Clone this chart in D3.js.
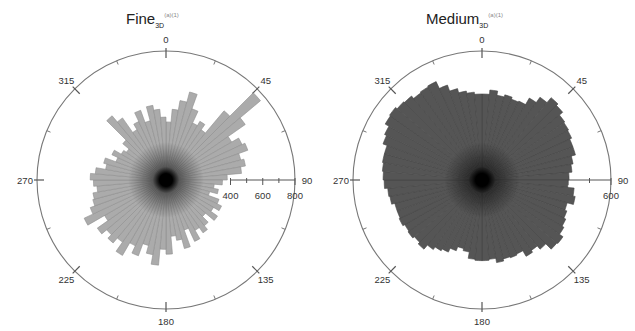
<!DOCTYPE html>
<html>
<head>
<meta charset="utf-8">
<script src="https://cdn.jsdelivr.net/npm/d3@7"></script>
<style>
  body { margin: 0; background: #fff; }
  svg text { font-family: "Liberation Sans", Arial, sans-serif; fill: #333; }
</style>
</head>
<body>
<svg id="chart" width="635" height="331"></svg>
<script>
// bin start angles (degrees), 5 degree bins
const binAngles = d3.range(0, 360, 5);

// Fine, counts per bin
const fineValues = [
  360, 440, 500, 565, 470, 390, 420, 380, 560, 765, 600, 470,
  520, 540, 480, 500, 470, 380, 350, 300, 330, 280, 350, 380,
  340, 390, 320, 370, 400, 360, 420, 330, 440, 380, 350, 460,
  430, 530, 470, 420, 500, 450, 540, 470, 510, 480, 520, 440,
  560, 500, 470, 460, 430, 450, 470, 440, 380, 400, 330, 370,
  320, 300, 350, 520, 470, 360, 400, 460, 380, 470, 440, 390
];

// Medium, counts per bin
const mediumValues = [
  400, 420, 400, 410, 400, 405, 440, 470, 500, 490, 470, 465,
  460, 450, 450, 430, 420, 405, 400, 430, 440, 410, 420, 430,
  440, 460, 455, 420, 400, 410, 380, 385, 380, 390, 370, 375,
  375, 370, 340, 330, 350, 370, 380, 395, 420, 410, 420, 415,
  425, 420, 420, 435, 440, 455, 460, 465, 470, 470, 490, 500,
  520, 525, 515, 510, 495, 500, 505, 470, 440, 420, 410, 400
];

const compassTicks = [0, 45, 90, 135, 180, 225, 270, 315];
const fineRadialTicks = [400, 600, 800];
const mediumRadialTicks = [600];

const svg = d3.select('#chart');
const rad = d => d * Math.PI / 180;

// dark core where the wedges meet
const defs = svg.append('defs');
const grad = defs.append('radialGradient').attr('id', 'core');
grad.append('stop').attr('offset', '0%').attr('stop-color', '#000').attr('stop-opacity', 1);
grad.append('stop').attr('offset', '17%').attr('stop-color', '#000').attr('stop-opacity', 1);
grad.append('stop').attr('offset', '35%').attr('stop-color', '#000').attr('stop-opacity', 0.45);
grad.append('stop').attr('offset', '100%').attr('stop-color', '#000').attr('stop-opacity', 0);

function rose(opts) {
  const g = svg.append('g').attr('transform', `translate(${opts.cx},${opts.cy})`);
  const R = 129;
  const r = d3.scaleLinear().domain([0, opts.max]).range([0, R]);
  const pt = (a, rr) => [Math.sin(rad(a)) * rr, -Math.cos(rad(a)) * rr];

  // outer circle
  g.append('circle').attr('r', R).attr('fill', 'none').attr('stroke', '#777').attr('stroke-width', 1.1);

  // minor angular ticks
  d3.range(22.5, 360, 45).forEach(a => {
    const p1 = pt(a, R), p2 = pt(a, R - 4);
    g.append('line').attr('x1', p1[0]).attr('y1', p1[1]).attr('x2', p2[0]).attr('y2', p2[1])
      .attr('stroke', '#777');
  });

  // major angular ticks + labels
  compassTicks.forEach(a => {
    if (a !== 90) {
      const p1 = pt(a, R + 3), p2 = pt(a, R - 7);
      g.append('line').attr('x1', p1[0]).attr('y1', p1[1]).attr('x2', p2[0]).attr('y2', p2[1])
        .attr('stroke', '#555').attr('stroke-width', 1.2);
    }
    const lp = pt(a, 141);
    g.append('text').attr('x', lp[0]).attr('y', lp[1])
      .attr('text-anchor', 'middle').attr('dominant-baseline', 'central')
      .attr('font-size', 9.5).text(a);
  });

  // radial axis along 90 degrees
  const r0 = r(400);
  g.append('line').attr('x1', r0).attr('y1', 0).attr('x2', R).attr('y2', 0)
    .attr('stroke', '#555').attr('stroke-width', 1);
  d3.range(400, opts.max + 1, 100).forEach(v => {
    const major = v % 200 === 0;
    g.append('line').attr('x1', r(v)).attr('x2', r(v))
      .attr('y1', -2).attr('y2', major ? 5 : 3)
      .attr('stroke', '#555');
  });
  opts.radialTicks.forEach(v => {
    g.append('text').attr('x', r(v)).attr('y', 15)
      .attr('text-anchor', 'middle').attr('dominant-baseline', 'central')
      .attr('font-size', 9.5).text(v);
  });

  // wedges
  const arc = d3.arc()
    .innerRadius(0)
    .outerRadius(d => r(d.v))
    .startAngle(d => rad(d.a))
    .endAngle(d => rad(d.a + 5));

  const bins = binAngles.map((a, i) => ({ a: a, v: opts.values[i] }));
  g.selectAll('path.bar')
    .data(bins)
    .enter().append('path')
    .attr('class', 'bar')
    .attr('d', arc)
    .attr('fill', opts.fill)
    .attr('stroke', opts.stroke)
    .attr('stroke-width', 0.6);

  g.append('circle').attr('r', 38).attr('fill', 'url(#core)');

  // title
  const t = svg.append('text').attr('x', opts.tx).attr('y', 24).attr('font-size', 15).style('fill', '#222');
  t.append('tspan').text(opts.title);
  t.append('tspan').attr('font-size', 7).attr('dy', 4).text('3D');
  t.append('tspan').attr('font-size', 6).attr('dy', -11).style('fill', '#888').text('(a)(1)');
}

rose({ cx: 166, cy: 180, max: 800, values: fineValues, radialTicks: fineRadialTicks,
  fill: '#ababab', stroke: '#8e8e8e', title: 'Fine', tx: 126 });
rose({ cx: 482, cy: 180, max: 600, values: mediumValues, radialTicks: mediumRadialTicks,
  fill: '#555', stroke: '#444', title: 'Medium', tx: 426 });
</script>
</body>
</html>
